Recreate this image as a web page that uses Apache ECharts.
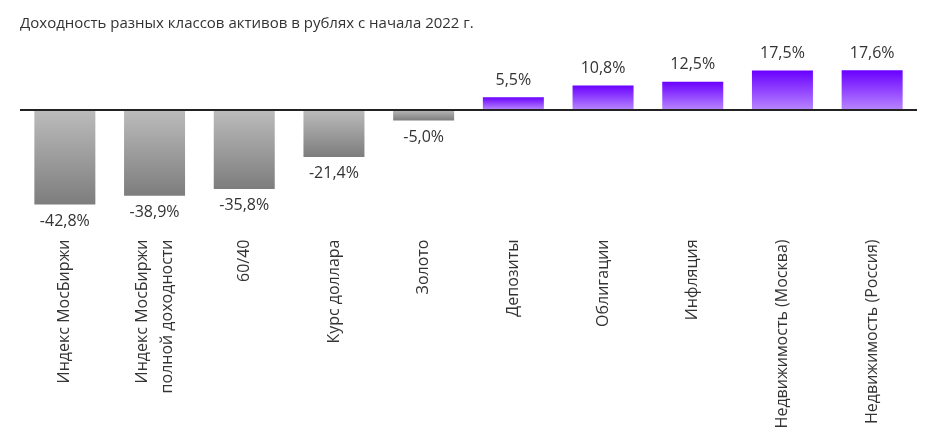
<!DOCTYPE html>
<html>
<head>
<meta charset="utf-8">
<script src="https://cdn.jsdelivr.net/npm/echarts@6/dist/echarts.min.js"></script>
<style>
  html, body { margin: 0; padding: 0; background: #fff; }
  #main { width: 938px; height: 436px; }
</style>
</head>
<body>
<div id="main"></div>
<script>
var titleText = 'Доходность разных классов активов в рублях с начала 2022 г.';
var categories = [
  'Индекс МосБиржи',
  'Индекс МосБиржи\nполной доходности',
  '60/40',
  'Курс доллара',
  'Золото',
  'Депозиты',
  'Облигации',
  'Инфляция',
  'Недвижимость (Москва)',
  'Недвижимость (Россия)'
];
var values = [-42.8, -38.9, -35.8, -21.4, -5.0, 5.5, 10.8, 12.5, 17.5, 17.6];

window.onload = function() {
  var myChart = echarts.init(document.getElementById('main'));
  var fontFam = '"Open Sans", "Noto Sans", sans-serif';

  var negGrad = {
    type: 'linear', x: 0, y: 0, x2: 0, y2: 1,
    colorStops: [
      { offset: 0, color: '#bcbcbc' },
      { offset: 1, color: '#7d7d7d' }
    ]
  };
  var posGrad = {
    type: 'linear', x: 0, y: 0, x2: 0, y2: 1,
    colorStops: [
      { offset: 0, color: '#6a00ff' },
      { offset: 1, color: '#b784ff' }
    ]
  };

  var barData = values.map(function(v) {
    return {
      value: v,
      itemStyle: { color: v < 0 ? negGrad : posGrad },
      label: { position: v < 0 ? 'bottom' : 'top' }
    };
  });

  var option = {
    backgroundColor: '#fff',
    animation: false,
    title: {
      text: titleText,
      left: 15,
      top: 11,
      textStyle: { fontSize: 15, fontWeight: 'normal', color: '#333', fontFamily: fontFam }
    },
    grid: { left: 20, right: 21, top: 65, height: 166.5 },
    xAxis: {
      type: 'category',
      data: categories,
      axisLine: { show: false, onZero: false },
      axisTick: { show: false },
      splitLine: { show: false },
      axisLabel: {
        rotate: 90,
        margin: 8,
        fontSize: 16,
        lineHeight: 25,
        color: '#333',
        fontFamily: fontFam,
        interval: 0
      }
    },
    yAxis: {
      type: 'value',
      min: -55,
      max: 20,
      show: false
    },
    series: [{
      type: 'bar',
      data: barData,
      barWidth: '68%',
      label: {
        show: true,
        distance: 9,
        fontSize: 16,
        color: '#333',
        fontFamily: fontFam,
        formatter: function(p) { return p.value.toFixed(1).replace('.', ',') + '%'; }
      },
      markLine: {
        silent: true,
        symbol: ['none', 'none'],
        label: { show: false },
        lineStyle: { color: '#222', width: 2, type: 'solid' },
        data: [{ yAxis: 0 }]
      }
    }]
  };
  myChart.setOption(option);
};
</script>
</body>
</html>
